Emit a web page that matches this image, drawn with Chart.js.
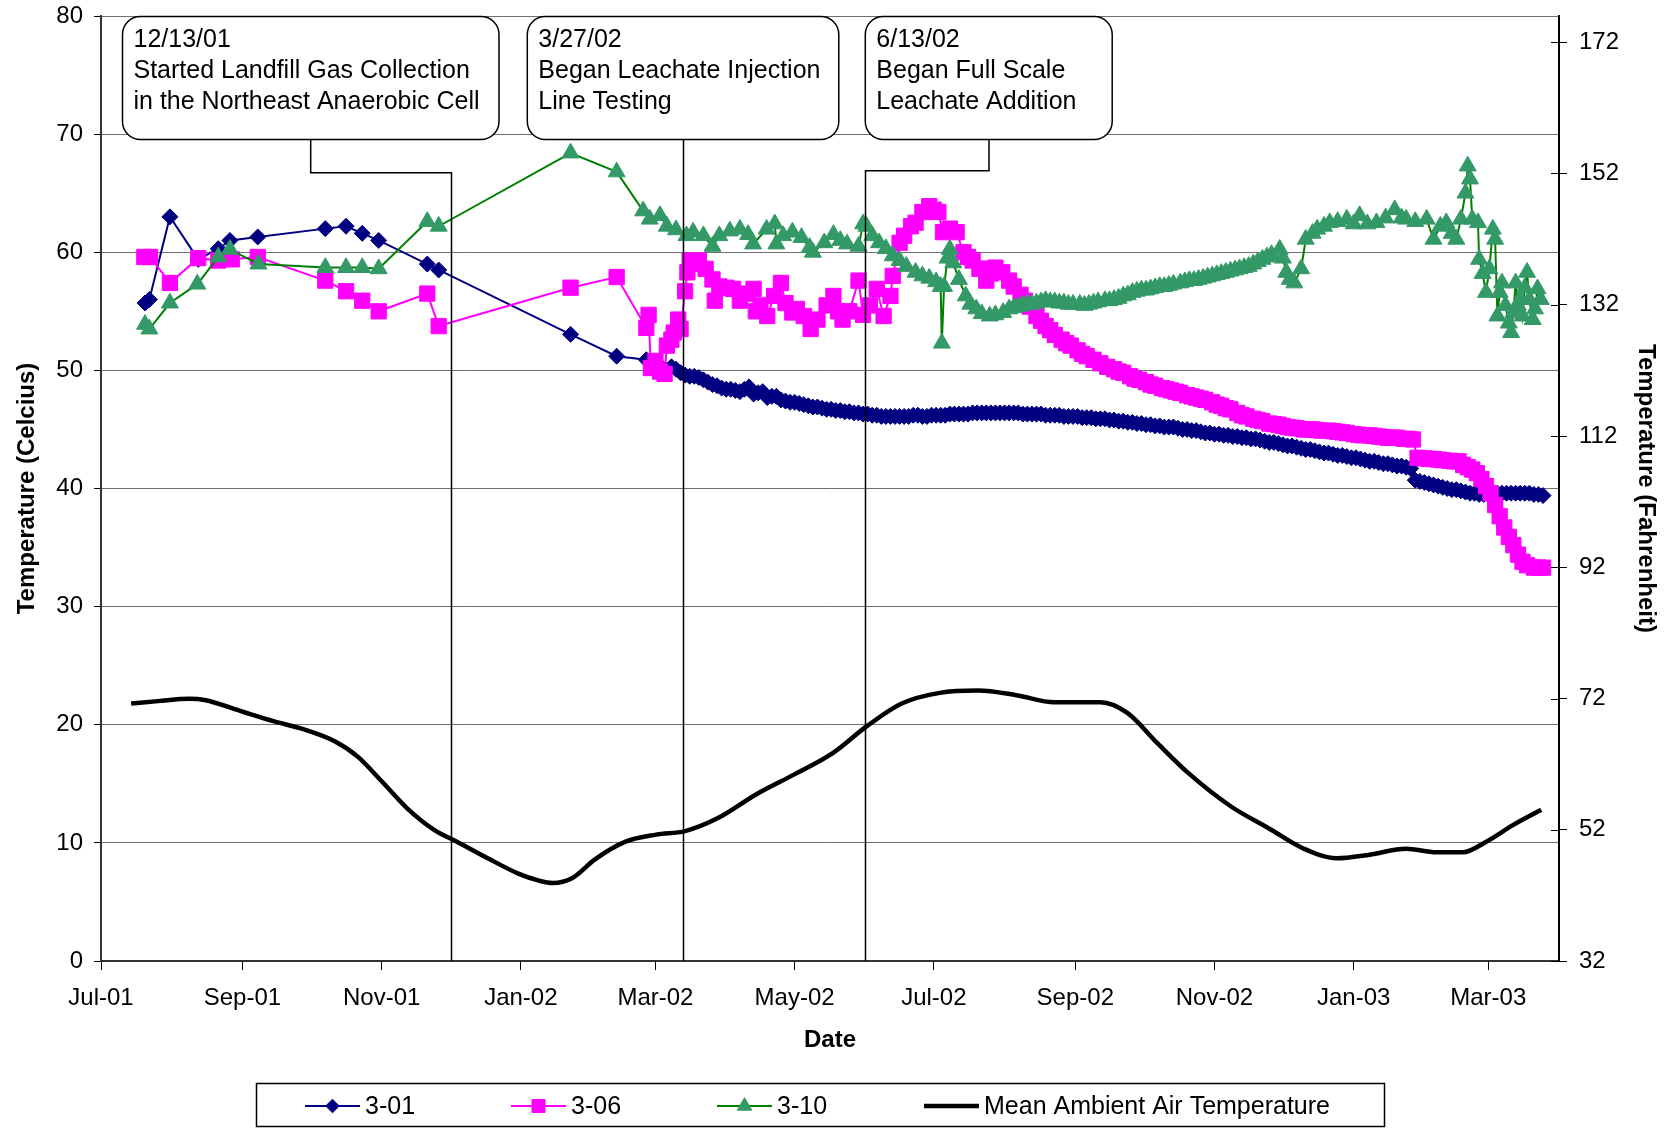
<!DOCTYPE html>
<html>
<head>
<meta charset="utf-8">
<script src="https://cdn.jsdelivr.net/npm/chart.js@4.4.1/dist/chart.umd.min.js"></script>
<style>
    html, body { margin: 0; padding: 0; background: #fff; }
    #wrap { width: 1671px; height: 1128px; }
</style>
</head>
<body>
<div id="wrap"><canvas id="tempChart" width="1671" height="1128"></canvas></div>
<script>
// --- Data: [days since 7/1/2001, temperature in °C] ---
const seriesNames = ["3-01", "3-06", "3-10", "Mean Ambient Air Temperature"];

const tickDates = ["2001-07-01", "2001-09-01", "2001-11-01", "2002-01-01", "2002-03-01", "2002-05-01",
                   "2002-07-01", "2002-09-01", "2002-11-01", "2003-01-01", "2003-03-01"];
const tickLabels = ["Jul-01", "Sep-01", "Nov-01", "Jan-02", "Mar-02", "May-02",
                    "Jul-02", "Sep-02", "Nov-02", "Jan-03", "Mar-03"];
const axisStart = "2001-07-01";
const axisEnd = "2003-04-01";
const celsiusTicks = [0, 10, 20, 30, 40, 50, 60, 70, 80];
const fahrenheitTicks = [32, 52, 72, 92, 112, 132, 152, 172];

const sensor301 = [
    [19.3, 55.7], [21.2, 56.0], [30.2, 63.0], [42.6, 59.4], [51.4, 60.3], [56.5, 61.0], [68.7, 61.3],
    [98.3, 62.0], [107.4, 62.2], [114.5, 61.6], [121.7, 61.0], [143, 59.0], [148, 58.5],
    [205.8, 53.05], [226, 51.2], [239, 50.9],
    [242, 50.5], [244, 50.3], [246, 50.2], [248, 50.0], [250, 50.3], [252, 50.1], [254, 49.8],
    [256, 49.6], [258, 49.5], [260, 49.5], [262, 49.4], [264, 49.2], [266, 49.0], [268, 48.8],
    [270, 48.7], [272, 48.5], [274, 48.4], [276, 48.4], [278, 48.3], [280, 48.2], [282, 48.4],
    [284, 48.6], [286, 48.0], [288, 48.1], [290, 48.2], [292, 47.7], [294, 47.8], [296, 47.8],
    [298, 47.5], [300, 47.4], [302, 47.3], [304, 47.3], [306, 47.2], [308, 47.1], [310, 47.0],
    [312, 46.9], [314, 46.9], [316, 46.8], [318, 46.7], [320, 46.7], [322, 46.6], [324, 46.6],
    [326, 46.5], [328, 46.5], [330, 46.4], [332, 46.4], [334, 46.3], [336, 46.3], [338, 46.2],
    [340, 46.2], [342, 46.1], [344, 46.1], [346, 46.1], [348, 46.1], [350, 46.1], [352, 46.1],
    [354, 46.1], [356, 46.2], [358, 46.2], [360, 46.1], [362, 46.1], [364, 46.2], [366, 46.2],
    [368, 46.2], [370, 46.2], [372, 46.3], [374, 46.3], [376, 46.3], [378, 46.3], [380, 46.3],
    [382, 46.4], [384, 46.4], [386, 46.4], [388, 46.4], [390, 46.4], [392, 46.4], [394, 46.4],
    [396, 46.4], [398, 46.4], [400, 46.4], [402, 46.4], [404, 46.3], [406, 46.3], [408, 46.3],
    [410, 46.3], [412, 46.3], [414, 46.2], [416, 46.2], [418, 46.2], [420, 46.2], [422, 46.1],
    [424, 46.1], [426, 46.1], [428, 46.1], [430, 46.0], [432, 46.0], [434, 46.0], [436, 45.9],
    [438, 45.9], [440, 45.9], [442, 45.8], [444, 45.8], [446, 45.7], [448, 45.7], [450, 45.6],
    [452, 45.6], [454, 45.5], [456, 45.5], [458, 45.4], [460, 45.4], [462, 45.3], [464, 45.3],
    [466, 45.2], [468, 45.2], [470, 45.2], [472, 45.1], [474, 45.0], [476, 45.0], [478, 44.9],
    [480, 44.9], [482, 44.8], [484, 44.7], [486, 44.7], [488, 44.6], [490, 44.6], [492, 44.5],
    [494, 44.5], [496, 44.4], [498, 44.4], [500, 44.3], [502, 44.3], [504, 44.2], [506, 44.2],
    [508, 44.1], [510, 44.0], [512, 43.9], [514, 43.9], [516, 43.8], [518, 43.7], [520, 43.6],
    [522, 43.6], [524, 43.5], [526, 43.4], [528, 43.3], [530, 43.3], [532, 43.2], [534, 43.1],
    [536, 43.0], [538, 43.0], [540, 42.9], [542, 42.8], [544, 42.8], [546, 42.7], [548, 42.6],
    [550, 42.6], [552, 42.5], [554, 42.4], [556, 42.3], [558, 42.3], [560, 42.2], [562, 42.1],
    [564, 42.1], [566, 42.0], [568, 41.9], [570, 41.9], [572, 41.8], [574, 41.7], [576, 40.7],
    [578, 40.6], [580, 40.5], [582, 40.4], [584, 40.3], [586, 40.2], [588, 40.1], [590, 40.0],
    [592, 39.9], [594, 39.9], [596, 39.8], [598, 39.7], [600, 39.6], [602, 39.6], [604, 39.5],
    [606, 39.5], [608, 39.5], [610, 39.6], [612, 39.6], [614, 39.6], [616, 39.6], [618, 39.6],
    [620, 39.6], [622, 39.6], [624, 39.6], [626, 39.6], [628, 39.5], [630, 39.5], [632, 39.4]
];

const sensor306 = [
    [19, 59.6], [21.5, 59.6], [30.2, 57.4], [42.6, 59.5], [51.4, 59.3], [57.3, 59.4], [68.7, 59.6],
    [98.3, 57.6], [107.4, 56.7], [114.5, 55.9], [121.7, 55.0], [143, 56.5], [148, 53.75],
    [205.8, 57.0], [226, 57.9], [239, 53.6], [240, 54.7], [241, 50.2], [243, 50.8], [245, 49.9],
    [247, 49.7], [248, 52.1], [250, 52.6], [251, 53.2], [253, 54.3], [254, 53.5], [256, 56.7],
    [257, 58.3], [258, 59.3], [260, 59.0], [262, 59.3], [265, 58.6], [268, 57.7], [269, 55.9],
    [271, 57.1], [274, 57.0], [277, 56.9], [280, 55.9], [283, 56.5], [286, 56.9], [287, 55.0],
    [289, 55.5], [292, 54.6], [295, 56.3], [298, 57.4], [300, 55.7], [303, 54.9], [305, 55.2],
    [308, 54.6], [311, 53.5], [314, 54.3], [318, 55.5], [321, 56.3], [323, 55.0], [325, 54.3],
    [328, 55.0], [332, 57.6], [334, 54.7], [337, 55.5], [340, 56.9], [343, 54.6], [346, 56.3],
    [347, 58.0], [350, 60.8], [352, 61.4], [355, 62.2], [357, 62.5], [360, 63.4], [363, 63.9],
    [365, 63.6], [367, 63.4], [369, 61.7], [372, 62.0], [375, 61.7], [378, 60.0], [380, 59.6],
    [382, 59.3], [385, 58.6], [387, 58.6], [388, 57.6], [390, 58.2], [392, 58.7], [395, 58.3],
    [398, 57.6], [400, 57.1], [403, 56.4], [405, 55.9], [407, 55.4], [410, 54.6], [412, 54.2],
    [414, 53.75], [416, 53.4], [418, 53.0], [421, 52.6], [423, 52.3], [425, 52.1], [428, 51.7],
    [430, 51.4], [432, 51.2], [435, 50.9], [438, 50.6], [441, 50.3], [444, 50.1], [446, 49.9],
    [448, 49.8], [451, 49.5], [453, 49.3], [455, 49.2], [458, 49.0], [460, 48.8], [462, 48.7],
    [465, 48.5], [467, 48.4], [469, 48.3], [471, 48.2], [473, 48.1], [476, 47.9], [478, 47.8],
    [480, 47.7], [482, 47.6], [484, 47.5], [487, 47.3], [489, 47.1], [491, 47.0], [493, 46.8],
    [495, 46.7], [498, 46.4], [500, 46.2], [502, 46.1], [505, 45.9], [507, 45.8], [509, 45.7],
    [512, 45.5], [514, 45.45], [516, 45.4], [518, 45.3], [520, 45.2], [522, 45.15], [524, 45.1],
    [527, 45.0], [529, 45.0], [531, 45.0], [533, 44.95], [535, 44.9], [538, 44.9], [540, 44.85],
    [542, 44.8], [544, 44.75], [546, 44.7], [549, 44.6], [551, 44.55], [553, 44.5], [556, 44.5],
    [558, 44.45], [560, 44.4], [562, 44.35], [564, 44.3], [566, 44.3], [568, 44.3], [571, 44.2],
    [573, 44.2], [575, 44.15], [577, 42.6], [580, 42.55], [582, 42.5], [584, 42.5], [586, 42.45],
    [588, 42.4], [591, 42.35], [593, 42.3], [595, 42.3], [597, 42.0], [599, 41.8], [601, 41.6],
    [603, 41.3], [605, 40.8], [607, 40.2], [609, 39.6], [611, 38.6], [613, 37.65], [615, 36.7],
    [617, 35.9], [619, 35.2], [621, 34.4], [623, 33.8], [625, 33.5], [628, 33.3], [630, 33.3],
    [632, 33.3]
];

const sensor310 = [
    [19.3, 53.9], [21.2, 53.5], [30.2, 55.7], [42.2, 57.3], [51.4, 59.6], [56.5, 60.25], [69, 59.0],
    [98.3, 58.7], [107.4, 58.7], [114.5, 58.7], [121.7, 58.6], [143, 62.6], [148, 62.2],
    [205.8, 68.4], [226, 66.8], [237.6, 63.5], [240.5, 62.8], [245, 63.1], [248, 62.2], [252, 61.9],
    [256.6, 61.4], [259.5, 61.7], [264, 61.4], [268, 60.5], [271, 61.4], [275.6, 61.8], [280, 61.95],
    [283.6, 61.5], [285.8, 60.7], [291.7, 61.95], [295.3, 62.4], [296, 60.7], [299, 61.4],
    [303, 61.7], [307, 61.25], [310.6, 60.4], [312, 60.0], [317, 60.8], [321, 61.5], [324, 61.0],
    [327, 60.7], [332, 60.5], [334, 62.4], [335.5, 62.2], [338, 61.4], [341, 60.8], [344, 60.3],
    [347, 59.7], [350, 59.3], [353, 58.8], [357, 58.3], [360, 58.0], [363, 57.8], [366, 57.5],
    [368, 57.1], [368.5, 52.3], [369.5, 57.1], [371, 59.5], [372, 60.25], [373.5, 59.1], [376, 57.7],
    [379, 56.3], [381, 55.6], [383.6, 55.2], [386, 54.8], [389.5, 54.6], [392, 54.7], [395.4, 54.9],
    [398, 55.2], [400, 55.3], [402, 55.4], [404, 55.5], [406, 55.6], [408, 55.6], [410, 55.7],
    [412, 55.8], [414, 55.9], [416, 55.8], [418, 55.8], [420, 55.7], [422, 55.7], [424, 55.6],
    [426, 55.6], [429, 55.6], [431, 55.5], [433, 55.6], [435, 55.7], [437, 55.8], [440, 55.9],
    [442, 55.9], [444, 56.0], [446, 56.1], [448, 56.3], [450, 56.4], [452, 56.6], [454, 56.7],
    [456, 56.8], [458, 56.8], [460, 56.9], [462, 57.0], [464, 57.1], [466, 57.1], [468, 57.2],
    [470, 57.3], [473, 57.4], [475, 57.5], [477, 57.6], [479, 57.6], [481, 57.7], [483, 57.8],
    [485, 57.9], [487, 58.0], [489, 58.1], [491, 58.2], [493, 58.3], [495, 58.4], [497, 58.5],
    [499, 58.6], [501, 58.7], [503, 58.8], [505, 59.0], [507, 59.2], [509, 59.4], [511, 59.6],
    [513, 59.8], [516.6, 60.25], [518, 59.5], [519.5, 58.3], [521, 57.7], [523, 57.4],
    [526, 58.6], [528, 61.1], [531, 61.6], [533, 61.95], [536, 62.2], [538.5, 62.5], [542, 62.6],
    [546, 62.8], [549, 62.4], [551.6, 63.1], [555, 62.4], [559, 62.5], [563, 62.9], [567, 63.6],
    [570, 62.9], [572, 62.8], [576, 62.6], [581, 62.8], [584, 61.1], [587, 62.2], [589.6, 62.5],
    [592, 61.6], [594, 61.1], [596, 62.8], [598, 65.0], [599, 67.3], [600, 66.2], [601, 62.8],
    [603.5, 62.5], [604, 59.4], [605.5, 58.2], [607, 56.6], [608.5, 58.6], [610, 61.95], [611, 61.1],
    [612, 54.6], [613, 56.6], [614, 57.4], [615.5, 55.5], [617, 54.0], [618, 53.2], [619, 54.9],
    [620, 57.4], [621, 55.5], [622, 56.0], [623, 54.6], [624, 57.0], [625, 58.3], [626, 56.0],
    [627.5, 54.3], [628.5, 55.2], [629.6, 56.9], [631, 56.0]
];

const ambientAir = [
    [13.2, 21.8], [25, 22.0], [38.7, 22.2], [45.4, 22.1], [62.1, 21.1], [75.6, 20.3], [89, 19.6],
    [102.4, 18.6], [112.5, 17.3], [122.6, 15.3], [134.3, 12.9], [146, 11.1], [156, 10.1],
    [169.5, 8.7], [182.9, 7.4], [192, 6.8], [198, 6.6], [206.4, 7.0], [216.5, 8.6], [229.9, 10.1],
    [243.3, 10.7], [256, 11.0], [270.4, 12.1], [287.1, 14.1], [303.9, 15.8], [320.7, 17.6],
    [335.8, 19.9], [350.9, 21.8], [367.6, 22.7], [384.4, 22.9], [401.2, 22.5], [417.9, 21.9],
    [438.1, 21.9], [449.8, 21.0], [463.2, 18.4], [476.6, 15.9], [495.1, 13.1], [512.1, 11.2],
    [526.7, 9.55], [541.4, 8.7], [556, 9.0], [572, 9.5], [585.2, 9.2], [596.9, 9.2], [607.1, 10.1],
    [618.8, 11.5], [631.2, 12.8]
];

// callout texts, the vertical line sits at "day"
const callouts = [
    { day: 153.6, lines: ["12/13/01", "Started Landfill Gas Collection", "in the Northeast Anaerobic Cell"] },
    { day: 255.2, lines: ["3/27/02", "Began Leachate Injection", "Line Testing"] },
    { day: 334.8, lines: ["6/13/02", "Began Full Scale", "Leachate Addition"] }
];


// --- helpers ---
const FONT = "'Liberation Sans', Arial, sans-serif";

function dayOf(s) {
    return (Date.parse(s) - Date.parse(axisStart)) / 86400000;
}

function toXY(pairs) {
    return pairs.map(p => ({ x: p[0], y: p[1] }));
}

function roundBox(ctx, l, t, r, b, rad) {
    ctx.beginPath();
    ctx.moveTo(l + rad, t);
    ctx.lineTo(r - rad, t);
    ctx.arcTo(r, t, r, t + rad, rad);
    ctx.lineTo(r, b - rad);
    ctx.arcTo(r, b, r - rad, b, rad);
    ctx.lineTo(l + rad, b);
    ctx.arcTo(l, b, l, b - rad, rad);
    ctx.lineTo(l, t + rad);
    ctx.arcTo(l, t, l + rad, t, rad);
    ctx.closePath();
}

// fixed plot box: no extra label padding on the value axes
function fixVertical(width) {
    return s => {
        s.width = width;
        s.paddingTop = 0;
        s.paddingBottom = 0;
    };
}


// --- callout boxes and connector lines ---
const boxLayout = [
    { left: 122.5, right: 499, stemX: 310.7, elbowY: 172.7 },
    { left: 527.3, right: 838.8, stemX: null, elbowY: null },
    { left: 865.3, right: 1112.2, stemX: 989, elbowY: 170.7 }
];

const calloutPlugin = {
    id: "callouts",
    afterDatasetsDraw(chart) {
        const ctx = chart.ctx;
        const xs = chart.scales.x;
        const area = chart.chartArea;
        const boxTop = 16.5, boxBottom = 139.5;

        ctx.save();
        ctx.strokeStyle = "#000";
        ctx.lineWidth = 1.5;

        callouts.forEach((c, i) => {
            const b = boxLayout[i];
            const lx = Math.round(xs.getPixelForValue(c.day)) + 0.5;
            ctx.beginPath();
            if (b.stemX !== null) {
                ctx.moveTo(b.stemX, boxBottom);
                ctx.lineTo(b.stemX, b.elbowY);
                ctx.lineTo(lx, b.elbowY);
            } else {
                ctx.moveTo(lx, boxBottom);
            }
            ctx.lineTo(lx, area.bottom);
            ctx.stroke();

            roundBox(ctx, b.left, boxTop, b.right, boxBottom, 18);
            ctx.fillStyle = "#fff";
            ctx.fill();
            ctx.stroke();

            ctx.fillStyle = "#000";
            ctx.font = "25px " + FONT;
            ctx.textAlign = "left";
            ctx.textBaseline = "alphabetic";
            c.lines.forEach((t, k) => ctx.fillText(t, b.left + 11, 47 + k * 31));
        });

        // right axis ticks also reach into the plot
        const ys2 = chart.scales.y2;
        ctx.lineWidth = 1;
        fahrenheitTicks.forEach(f => {
            const y = Math.round(ys2.getPixelForValue(f)) + 0.5;
            ctx.beginPath();
            ctx.moveTo(ys2.left - 8, y);
            ctx.lineTo(ys2.left, y);
            ctx.stroke();
        });
        ctx.restore();
    }
};


// --- legend in a box below the chart ---
const legendPlugin = {
    id: "boxLegend",
    afterDraw(chart) {
        const ctx = chart.ctx;
        const slots = [305, 511, 717, 924];
        const cy = 1106;

        ctx.save();
        ctx.strokeStyle = "#000";
        ctx.lineWidth = 1.5;
        ctx.strokeRect(256.5, 1083.5, 1128, 43);

        chart.data.datasets.forEach((ds, i) => {
            const sx = slots[i];
            ctx.strokeStyle = ds.borderColor;
            ctx.lineWidth = ds.borderWidth;
            ctx.beginPath();
            ctx.moveTo(sx, cy);
            ctx.lineTo(sx + 55, cy);
            ctx.stroke();

            if (ds.pointRadius > 0) {
                ctx.fillStyle = ds.pointBackgroundColor;
                ctx.strokeStyle = ds.pointBorderColor;
                ctx.lineWidth = 1;
                Chart.helpers.drawPoint(ctx, {
                    pointStyle: ds.pointStyle,
                    radius: ds.pointRadius * 0.85,
                    rotation: 0,
                    borderWidth: 1
                }, sx + 27.5, cy);
            }

            ctx.fillStyle = "#000";
            ctx.font = "25px " + FONT;
            ctx.textAlign = "left";
            ctx.textBaseline = "middle";
            ctx.fillText(ds.label, sx + 60, cy + 1);
        });
        ctx.restore();
    }
};


// --- chart ---
const tickDays = tickDates.map(dayOf);

new Chart(document.getElementById("tempChart").getContext("2d"), {
    type: "line",
    data: {
        datasets: [
            {
                label: seriesNames[0],
                data: toXY(sensor301),
                borderColor: "#000080",
                borderWidth: 2,
                pointStyle: "rectRot",
                pointRadius: 8,
                pointBackgroundColor: "#000080",
                pointBorderColor: "#000080",
                pointBorderWidth: 1,
                order: 4
            },
            {
                label: seriesNames[1],
                data: toXY(sensor306),
                borderColor: "#FF00FF",
                borderWidth: 2,
                pointStyle: "rect",
                pointRadius: 10.8,
                pointBackgroundColor: "#FF00FF",
                pointBorderColor: "#FF00FF",
                pointBorderWidth: 1,
                order: 3
            },
            {
                label: seriesNames[2],
                data: toXY(sensor310),
                borderColor: "#008000",
                borderWidth: 2,
                pointStyle: "triangle",
                pointRadius: 9.8,
                pointBackgroundColor: "#339966",
                pointBorderColor: "#339966",
                pointBorderWidth: 1,
                order: 2
            },
            {
                label: seriesNames[3],
                data: toXY(ambientAir),
                borderColor: "#000000",
                borderWidth: 4.5,
                pointRadius: 0,
                cubicInterpolationMode: "monotone",
                order: 1
            }
        ]
    },
    options: {
        responsive: false,
        animation: false,
        layout: { autoPadding: false, padding: { top: 16, left: 0, right: 0, bottom: 0 } },
        plugins: {
            legend: { display: false },
            tooltip: { enabled: false }
        },
        scales: {
            x: {
                type: "linear",
                min: dayOf(axisStart),
                max: dayOf(axisEnd),
                afterBuildTicks: s => { s.ticks = tickDays.map(v => ({ value: v })); },
                afterFit: s => { s.height = 167; s.paddingLeft = 0; s.paddingRight = 0; },
                ticks: {
                    callback: (v, i) => tickLabels[i],
                    font: { family: FONT, size: 24 },
                    color: "#000",
                    padding: 14,
                    maxRotation: 0,
                    autoSkip: false
                },
                grid: { drawOnChartArea: false, tickLength: 9, tickColor: "#000" },
                border: { color: "#333", width: 2 },
                title: {
                    display: true,
                    text: "Date",
                    font: { family: FONT, size: 24, weight: "bold" },
                    color: "#000",
                    padding: { top: 0, bottom: 73 }
                }
            },
            y: {
                position: "left",
                min: 0,
                max: 80,
                afterBuildTicks: s => { s.ticks = celsiusTicks.map(v => ({ value: v })); },
                afterFit: fixVertical(101),
                ticks: {
                    font: { family: FONT, size: 24 },
                    color: "#000",
                    padding: 11
                },
                grid: { color: "#707070", lineWidth: 1, tickLength: 7, tickColor: "#000" },
                border: { color: "#333", width: 2 },
                title: {
                    display: true,
                    text: "Temperature (Celcius)",
                    font: { family: FONT, size: 24, weight: "bold" },
                    color: "#000",
                    padding: { top: 13, bottom: 0 }
                }
            },
            y2: {
                position: "right",
                min: 32,
                max: 176,
                afterBuildTicks: s => { s.ticks = fahrenheitTicks.map(v => ({ value: v })); },
                afterFit: fixVertical(112),
                ticks: {
                    font: { family: FONT, size: 24 },
                    color: "#000",
                    padding: 12
                },
                grid: { drawOnChartArea: false, tickLength: 8, tickColor: "#000" },
                border: { color: "#000", width: 2 },
                title: {
                    display: true,
                    text: "Temperature (Fahrenheit)",
                    font: { family: FONT, size: 24, weight: "bold" },
                    color: "#000",
                    padding: { top: 11, bottom: 0 }
                }
            }
        }
    },
    plugins: [calloutPlugin, legendPlugin]
});
</script>
</body>
</html>
